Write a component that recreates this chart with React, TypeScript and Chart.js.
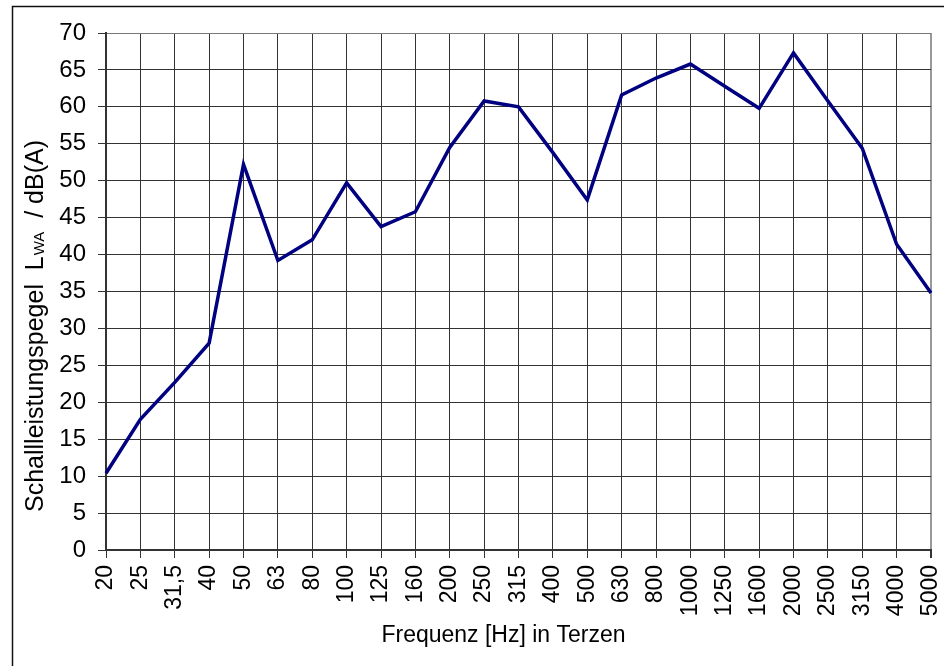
import React, { useEffect, useRef } from "react";
import { Chart, registerables } from "chart.js";

Chart.register(...registerables);

const frequencies = ["20", "25", "31,5", "40", "50", "63", "80", "100", "125", "160", "200", "250", "315", "400", "500", "630", "800", "1000", "1250", "1600", "2000", "2500", "3150", "4000", "5000"];
const levels = [10.4, 17.7, 22.7, 28.0, 52.2, 39.2, 42.0, 49.7, 43.8, 45.8, 54.5, 60.8, 60.0, 53.8, 47.4, 61.6, 63.9, 65.8, 62.8, 59.8, 67.3, 60.8, 54.4, 41.4, 34.8];
const xTitle = "Frequenz [Hz] in Terzen";
const yTitleMain = "Schallleistungspegel  L";
const yTitleSub = "WA";
const yTitleEnd = "  / dB(A)";

const FONT = "'Liberation Sans', Arial, sans-serif";

const decorPlugin = {
  id: "decor",
  afterDraw(chart: any) {
    const ctx = chart.ctx as CanvasRenderingContext2D;
    ctx.save();
    // outer frame
    ctx.strokeStyle = "#111";
    ctx.lineWidth = 1.5;
    ctx.beginPath();
    ctx.moveTo(12.5, 700);
    ctx.lineTo(12.5, 6.5);
    ctx.lineTo(1000, 6.5);
    ctx.stroke();

    // x title
    ctx.fillStyle = "#000";
    ctx.font = `23px ${FONT}`;
    ctx.textAlign = "center";
    ctx.textBaseline = "alphabetic";
    ctx.fillText(xTitle, 503.5, 642);

    // y title (rotated, with subscript)
    ctx.translate(43, 512);
    ctx.rotate(-Math.PI / 2);
    ctx.textAlign = "left";
    ctx.font = `25px ${FONT}`;
    ctx.fillText(yTitleMain, 0, 0);
    let x = ctx.measureText(yTitleMain).width + 1;
    ctx.font = `15px ${FONT}`;
    ctx.fillText(yTitleSub, x, 1);
    x += ctx.measureText(yTitleSub).width;
    ctx.font = `25px ${FONT}`;
    ctx.fillText(yTitleEnd, x, 0);
    ctx.restore();
  },
};

export default function App() {
  const ref = useRef<HTMLCanvasElement | null>(null);
  useEffect(() => {
    if (!ref.current) return;
    const chart = new Chart(ref.current, {
      type: "line",
      data: {
        labels: frequencies,
        datasets: [
          {
            data: levels,
            borderColor: "#000080",
            borderWidth: 3.5,
            pointRadius: 0,
            tension: 0,
            fill: false,
          },
        ],
      },
      options: {
        animation: false,
        responsive: false,
        maintainAspectRatio: false,
        layout: { padding: { left: 0, top: 33, right: 13, bottom: 0 } },
        plugins: { legend: { display: false }, tooltip: { enabled: false } },
        scales: {
          x: {
            offset: false,
            afterFit: (s: any) => {
              s.height = 116;
              s.paddingLeft = 0;
              s.paddingRight = 0;
            },
            grid: {
              color: (c: any) => (c.index === frequencies.length - 1 ? "#999" : "#333"),
              lineWidth: (c: any) => (c.index === frequencies.length - 1 ? 2 : 1),
              tickLength: 8,
              tickColor: "#333",
            },
            border: { color: "#333", width: 2 },
            ticks: {
              autoSkip: false,
              minRotation: 90,
              maxRotation: 90,
              padding: 7,
              color: "#000",
              font: { family: FONT, size: 23 },
            },
          },
          y: {
            min: 0,
            max: 70,
            afterFit: (s: any) => {
              s.width = 106;
              s.paddingTop = 0;
              s.paddingBottom = 0;
            },
            grid: {
              color: (c: any) => (c.tick && c.tick.value === 70 ? "#777" : "#333"),
              lineWidth: 1,
              tickLength: 8,
              tickColor: "#333",
            },
            border: { color: "#333", width: 2 },
            ticks: {
              stepSize: 5,
              padding: 12,
              color: "#000",
              font: { family: FONT, size: 24 },
            },
          },
        },
      },
      plugins: [decorPlugin],
    });
    return () => chart.destroy();
  }, []);
  return (
    <div style={{ position: "fixed", left: 0, top: 0, width: 944, height: 666, background: "#fff" }}>
      <canvas ref={ref} width={944} height={666} style={{ display: "block" }} />
    </div>
  );
}
